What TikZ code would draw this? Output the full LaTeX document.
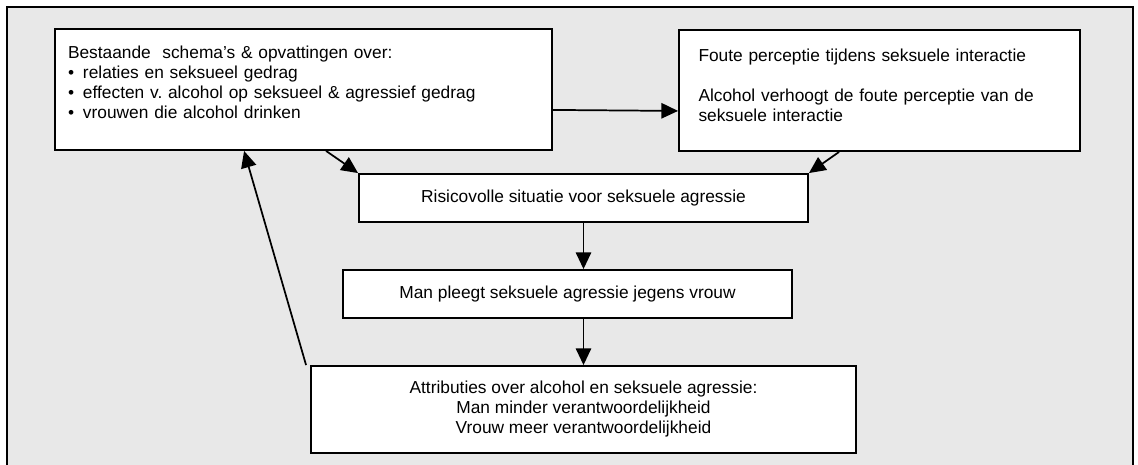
\documentclass[tikz,border=0pt]{standalone}
\usepackage{fontspec}
\setmainfont{Liberation Sans}
\usetikzlibrary{positioning,calc,arrows.meta}
\definecolor{panelgray}{RGB}{232,232,232}
\frenchspacing

\begin{document}
\begin{tikzpicture}[
    x=0.75pt, y=-0.75pt,
    block/.style={rectangle, draw, fill=white, line width=1.4pt, inner sep=0pt, font=\fontsize{13}{15}\selectfont},
    arrow/.style={-{Triangle[length=12.5pt,width=11.5pt]}, line width=1.3pt}
]
    \useasboundingbox (0,0) rectangle (1138,464);
    \draw[fill=panelgray, line width=1.4pt] (7,7) rectangle (1133,470);

    \node[block, minimum width=372.75pt, minimum height=90.75pt, text width=353.25pt, align=left] (schema) at (303.5,89.5)
        {Bestaande~ schema’s \& opvattingen over:\\
         \makebox[11.25pt][l]{\textbullet}relaties en seksueel gedrag\\
         \makebox[11.25pt][l]{\textbullet}effecten v. alcohol op seksueel \& agressief gedrag\\
         \makebox[11.25pt][l]{\textbullet}vrouwen die alcohol drinken\\[-4.25pt]\mbox{}};
    \node[block, minimum width=300.75pt, minimum height=90.75pt, text width=271.5pt, align=left] (perceptie) at (879.5,90.5)
        {Foute perceptie tijdens seksuele interactie\\[15pt]
         Alcohol verhoogt de foute perceptie van de\\
         seksuele interactie\\[-7.25pt]\mbox{}};
    \node[block, minimum width=336.75pt, minimum height=36pt] (risico) at (583.5,198)
        {Risicovolle situatie voor seksuele agressie};
    \node[block, minimum width=336.75pt, minimum height=36pt] (pleegt) at (567.5,294)
        {Man pleegt seksuele agressie jegens vrouw};
    \node[block, minimum width=408.75pt, minimum height=65.25pt, align=center] (attrib) at (583.5,409.5)
        {Attributies over alcohol en seksuele agressie:\\
         Man minder verantwoordelijkheid\\
         Vrouw meer verantwoordelijkheid};

    \draw[arrow] ($(schema.south east)+(0,-41)$) -- ($(perceptie.south west)+(0,-41)$);
    \draw[arrow] ($(schema.south west)+(272,0)$) -- (risico.north west);
    \draw[arrow] ($(perceptie.south west)+(161,0)$) -- (risico.north east);
    \draw[arrow] (risico.south) -- (risico.south |- pleegt.north);
    \draw[arrow] (attrib.north |- pleegt.south) -- (attrib.north);
    \draw[arrow] ($(attrib.north west)+(-4,0)$) -- ($(schema.south west)+(190,0)$);
\end{tikzpicture}
\end{document}
